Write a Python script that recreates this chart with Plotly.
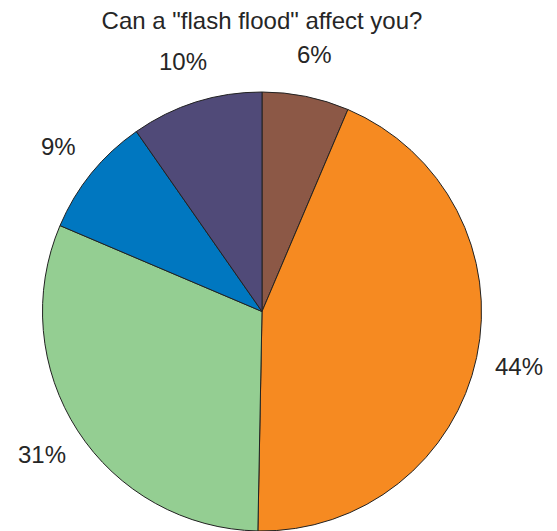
import math
import plotly.graph_objects as go

title = 'Can a "flash flood" affect you?'
categories = ["A", "B", "C", "D", "E"]
values = [6.4, 43.9, 31.1, 8.9, 9.7]
colors = ["#8C5846", "#F68A21", "#94CE92", "#0077C0", "#504A78"]

W, H = 557, 531
off = 8  # default page margin of the html body
ml, mt = 42 - off, 92 - off
pw, ph = 440, 439
mr, mb = W - ml - pw, H - mt - ph
R = min(pw, ph) / 2.0
label_k = 1.195
fnt = "Liberation Sans, Arial, sans-serif"

fig = go.Figure(go.Pie(
    labels=categories,
    values=values,
    sort=False,
    direction="clockwise",
    rotation=0,
    textinfo="none",
    hoverinfo="skip",
    marker=dict(colors=colors, line=dict(color="#222222", width=1)),
    showlegend=False,
))

total = sum(values)
cum = 0.0
annotations = []
for v in values:
    mid = (cum + v / 2.0) / total * 2 * math.pi
    cum += v
    x = 0.5 + label_k * R * math.sin(mid) / pw
    y = 0.5 + label_k * R * math.cos(mid) / ph
    annotations.append(dict(
        x=x, y=y, xref="paper", yref="paper",
        text=f"{v / total:.0%}", showarrow=False,
        xanchor="center", yanchor="middle",
        font=dict(size=24, color="#262626", family=fnt),
    ))

fig.update_layout(
    width=W, height=H,
    margin=dict(l=ml, r=mr, t=mt, b=mb, pad=0),
    paper_bgcolor="white", plot_bgcolor="white",
    title=dict(text=title, x=(ml + pw / 2.0) / W, xanchor="center",
               y=1 - (21.0 - off) / H, yanchor="middle",
               font=dict(size=24, color="#262626", family=fnt)),
    annotations=annotations,
)

fig.write_html("out.html")
